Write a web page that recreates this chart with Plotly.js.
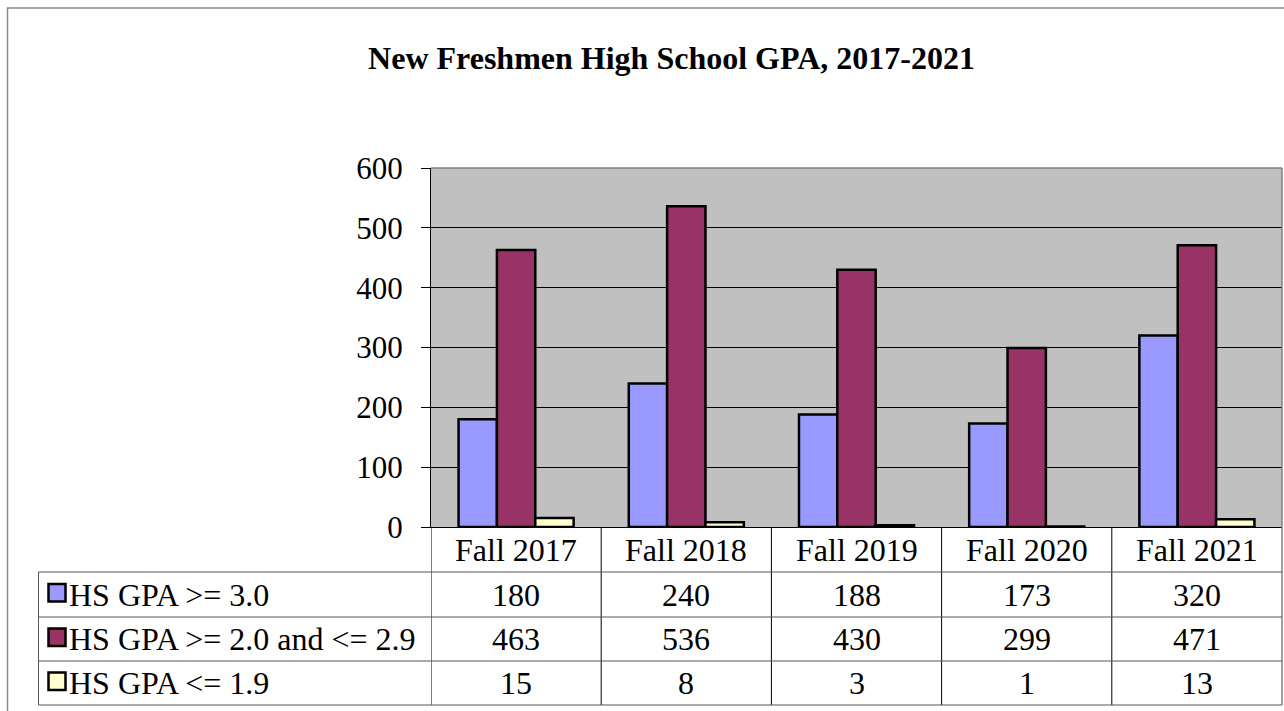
<!DOCTYPE html>
<html>
<head>
<meta charset="utf-8">
<script src="https://cdn.plot.ly/plotly-3.0.1.min.js"></script>
<style>
  html, body { margin: 0; padding: 0; background: #ffffff; }
  #chart { width: 1284px; height: 711px; }
</style>
</head>
<body>
<div id="chart"></div>
<script>
// ---- Data ----
const categories = ['Fall 2017', 'Fall 2018', 'Fall 2019', 'Fall 2020', 'Fall 2021'];
const seriesNames = ['HS GPA &gt;= 3.0', 'HS GPA &gt;= 2.0 and &lt;= 2.9', 'HS GPA &lt;= 1.9'];
const gpaHigh = [180, 240, 188, 173, 320];
const gpaMid = [463, 536, 430, 299, 471];
const gpaLow = [15, 8, 3, 1, 13];
const yTicks = [0, 100, 200, 300, 400, 500, 600];
const titleText = 'New Freshmen High School GPA, 2017-2021';

// ---- Styles ----
const seriesColors = ['#9999FF', '#993366', '#FFFFCC'];
const FONT = "'Liberation Serif', 'Times New Roman', Times, serif";
const W = 1284, H = 711;
const plotL = 431, plotR = 1282, plotT = 168, plotB = 527;
const px = p => (p - plotL) / (plotR - plotL);
const py = p => (plotB - p) / (plotB - plotT);

const rowLines = [572, 617, 661, 705];
const rowCenters = [594.5, 639, 683];
const headerCenter = 549.5;
const labelColLeft = 38.5;

const allSeries = [gpaHigh, gpaMid, gpaLow];

const traces = allSeries.map((vals, i) => ({
  type: 'bar',
  x: categories,
  y: vals,
  name: seriesNames[i],
  marker: { color: seriesColors[i], line: { color: '#000000', width: 2.5 } },
  hoverinfo: 'x+y'
}));

const shapes = [];
const annotations = [];

// outer chart border
shapes.push({ type: 'rect', xref: 'paper', yref: 'paper',
  x0: px(7.5), x1: px(1310), y0: py(8), y1: py(740),
  line: { color: '#8a8a8a', width: 1.5 }, fillcolor: 'rgba(0,0,0,0)', layer: 'above' });

// plot top & right border (gray)
shapes.push({ type: 'line', xref: 'paper', yref: 'paper', x0: 0, x1: 1, y0: 1, y1: 1,
  line: { color: '#808080', width: 1.5 }, layer: 'above' });
shapes.push({ type: 'line', xref: 'paper', yref: 'paper', x0: 1, x1: 1, y0: 1, y1: py(705),
  line: { color: '#808080', width: 1.5 }, layer: 'above' });

// table vertical lines at category boundaries
for (let k = 0; k < categories.length; k++) {
  shapes.push({ type: 'line', xref: 'x', yref: 'paper', x0: k - 0.5, x1: k - 0.5,
    y0: 0, y1: py(705), line: { color: '#000000', width: 1 }, layer: 'above' });
}
// label column left line
shapes.push({ type: 'line', xref: 'paper', yref: 'paper', x0: px(labelColLeft), x1: px(labelColLeft),
  y0: py(572), y1: py(705), line: { color: '#555555', width: 1 }, layer: 'above' });
// horizontal row lines
rowLines.forEach(r => {
  shapes.push({ type: 'line', xref: 'paper', yref: 'paper', x0: px(labelColLeft), x1: 1,
    y0: py(r), y1: py(r), line: { color: '#555555', width: 1 }, layer: 'above' });
});

// header labels
categories.forEach(c => {
  annotations.push({ xref: 'x', yref: 'paper', x: c, y: py(headerCenter),
    text: c, showarrow: false, xanchor: 'center', yanchor: 'middle',
    font: { family: FONT, size: 32, color: '#000000' } });
});

// data rows
allSeries.forEach((vals, i) => {
  // legend key square
  shapes.push({ type: 'rect', xref: 'paper', yref: 'paper',
    x0: px(48.5), x1: px(65.5), y0: py(rowCenters[i] - 10.5), y1: py(rowCenters[i] + 7),
    fillcolor: seriesColors[i], line: { color: '#000000', width: 2.5 }, layer: 'above' });
  annotations.push({ xref: 'paper', yref: 'paper', x: px(67), y: py(rowCenters[i]),
    text: seriesNames[i], showarrow: false, xanchor: 'left', yanchor: 'middle',
    font: { family: FONT, size: 32, color: '#000000' } });
  vals.forEach((v, j) => {
    annotations.push({ xref: 'x', yref: 'paper', x: categories[j], y: py(rowCenters[i]),
      text: String(v), showarrow: false, xanchor: 'center', yanchor: 'middle',
      font: { family: FONT, size: 32, color: '#000000' } });
  });
});

const layout = {
  width: W, height: H, autosize: false,
  margin: { l: plotL, r: W - plotR, t: plotT, b: H - plotB, pad: 0 },
  paper_bgcolor: '#ffffff',
  plot_bgcolor: '#C0C0C0',
  showlegend: false,
  barmode: 'group',
  bargap: 0.324,
  bargroupgap: 0,
  font: { family: FONT, size: 31, color: '#000000' },
  title: {
    text: '<b>' + titleText + '</b>',
    font: { family: FONT, size: 32, color: '#000000' },
    xref: 'container', yref: 'container',
    x: 671.5 / W, xanchor: 'center',
    y: 1 - 58 / H, yanchor: 'middle'
  },
  xaxis: {
    type: 'category', range: [-0.5, categories.length - 0.5],
    showticklabels: false, ticks: '', showgrid: false, zeroline: false,
    showline: true, linecolor: '#000000', linewidth: 1
  },
  yaxis: {
    range: [0, 600], tickvals: yTicks, ticktext: yTicks.map(String),
    showgrid: true, gridcolor: '#000000', gridwidth: 1,
    zeroline: false, showline: true, linecolor: '#000000', linewidth: 1,
    ticks: 'outside', ticklen: 9, tickcolor: '#000000', tickwidth: 1,
    ticklabelstandoff: 12,
    tickfont: { family: FONT, size: 31, color: '#000000' }
  },
  shapes: shapes,
  annotations: annotations
};

Plotly.newPlot('chart', traces, layout, { displayModeBar: false, staticPlot: true });
</script>
</body>
</html>
